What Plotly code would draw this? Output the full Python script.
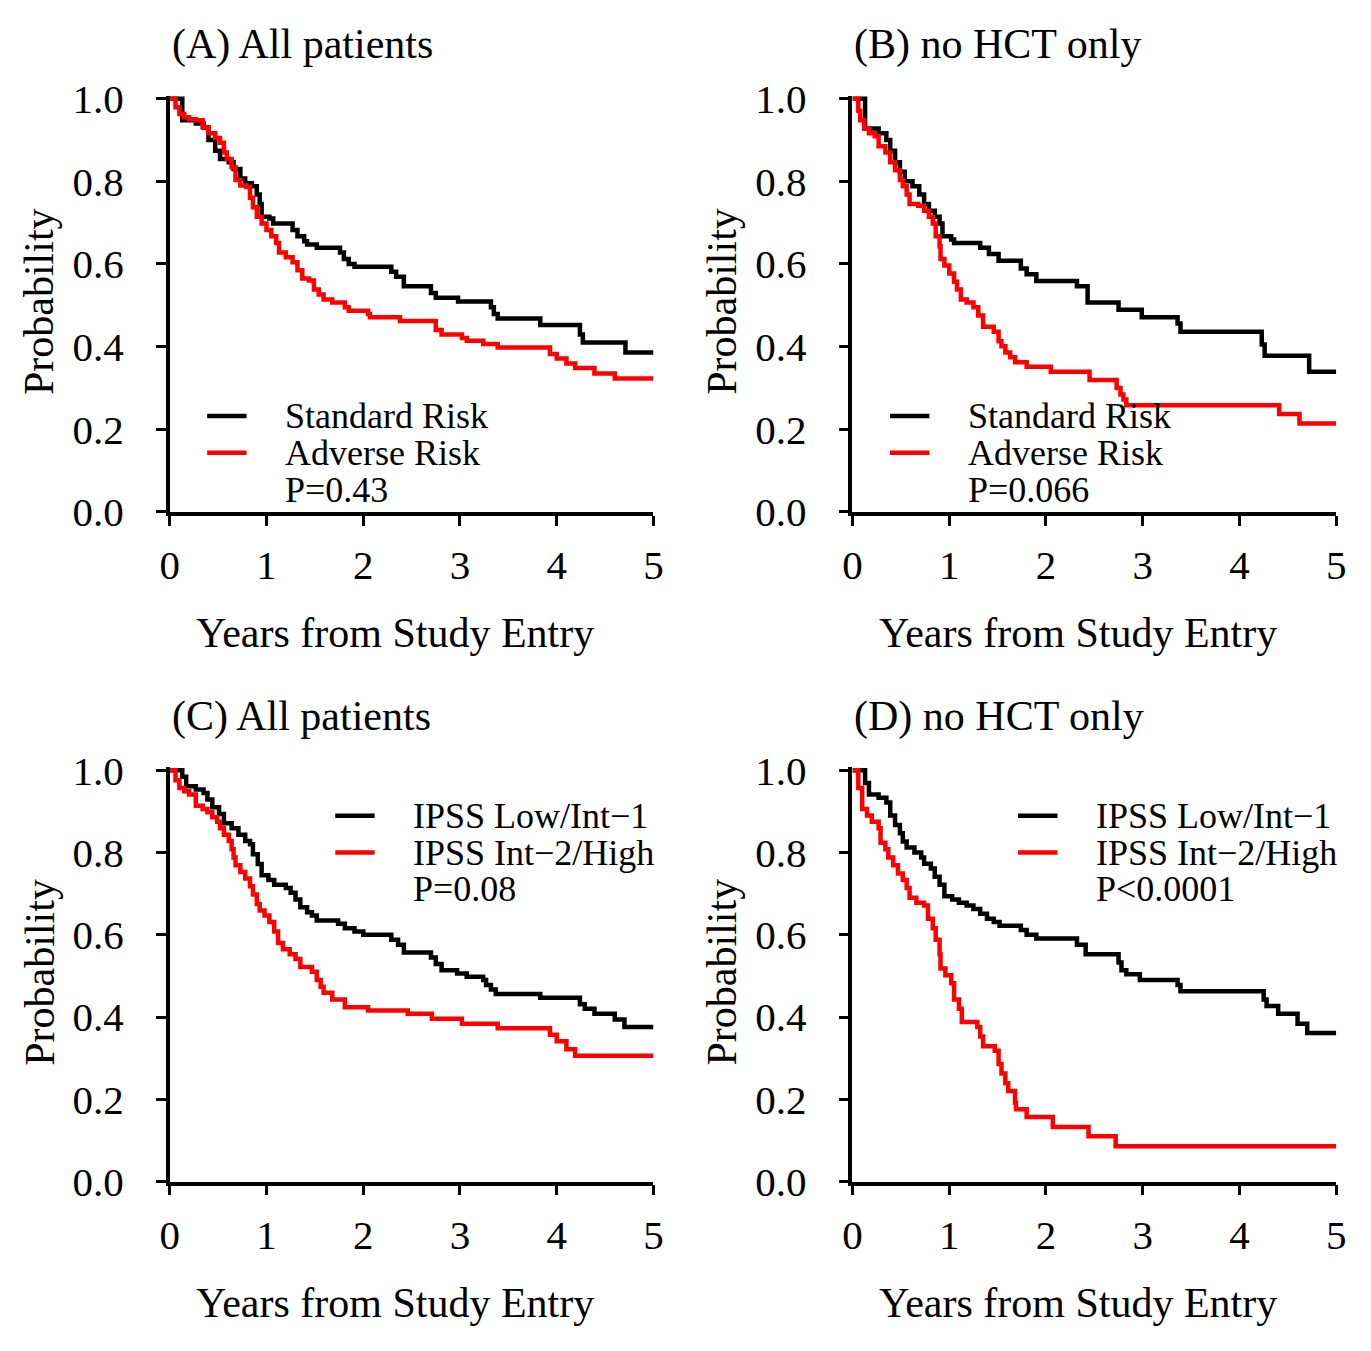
import plotly.graph_objects as go

# The page body has an 8px default margin: size the figure to fit the 1371x1351 window
OFF = 8
W, H = 1371 - 2 * OFF, 1351 - 2 * OFF
FONT = "Liberation Serif"

# ---------------- data (Kaplan-Meier step curves, years vs probability) ----------------
a_std_t = [0, 0.13, 0.27, 0.35, 0.40, 0.47, 0.52, 0.61, 0.66, 0.73, 0.78, 0.85, 0.90, 0.93, 0.95, 1.03, 1.07,
           1.27, 1.32, 1.39, 1.42, 1.52, 1.76, 1.80, 1.85, 1.91, 2.29, 2.34, 2.42, 2.70, 2.75, 2.98, 3.32,
           3.35, 3.39, 3.83, 4.24, 4.27, 4.71, 5.0]
a_std_s = [1.0, 0.948, 0.94, 0.93, 0.90, 0.874, 0.854, 0.846, 0.83, 0.807, 0.795, 0.788, 0.768, 0.745, 0.714,
           0.71, 0.698, 0.682, 0.667, 0.655, 0.647, 0.639, 0.628, 0.612, 0.60, 0.593, 0.581, 0.569, 0.546,
           0.53, 0.518, 0.509, 0.495, 0.479, 0.468, 0.452, 0.429, 0.41, 0.386, 0.386]
a_adv_t = [0, 0.06, 0.10, 0.15, 0.20, 0.27, 0.34, 0.40, 0.47, 0.52, 0.56, 0.59, 0.64, 0.68, 0.73, 0.79, 0.83,
           0.86, 0.90, 0.95, 1.00, 1.05, 1.10, 1.13, 1.20, 1.27, 1.32, 1.37, 1.44, 1.49, 1.54, 1.59, 1.68,
           1.81, 1.85, 2.05, 2.07, 2.38, 2.75, 2.81, 3.02, 3.07, 3.24, 3.39, 3.93, 4.00, 4.10, 4.19, 4.39,
           4.60, 5.0]
a_adv_s = [1.0, 0.979, 0.963, 0.955, 0.95, 0.948, 0.93, 0.916, 0.905, 0.893, 0.87, 0.854, 0.834, 0.803, 0.79,
           0.786, 0.76, 0.737, 0.714, 0.698, 0.682, 0.667, 0.651, 0.628, 0.616, 0.604, 0.585, 0.565, 0.56,
           0.538, 0.526, 0.514, 0.507, 0.495, 0.487, 0.479, 0.471, 0.462, 0.44, 0.429, 0.421, 0.414, 0.406,
           0.398, 0.382, 0.371, 0.359, 0.348, 0.335, 0.323, 0.323]

b_std_t = [0, 0.13, 0.27, 0.35, 0.39, 0.44, 0.49, 0.54, 0.62, 0.69, 0.74, 0.79, 0.85, 0.90, 0.93, 1.02, 1.05,
           1.32, 1.41, 1.51, 1.74, 1.80, 1.90, 2.32, 2.43, 2.75, 2.99, 3.36, 3.39, 4.23, 4.26, 4.72, 5.0]
b_std_s = [1.0, 0.928, 0.916, 0.90, 0.874, 0.846, 0.823, 0.80, 0.788, 0.768, 0.745, 0.729, 0.714, 0.698,
           0.667, 0.659, 0.651, 0.639, 0.624, 0.608, 0.589, 0.575, 0.559, 0.546, 0.507, 0.489, 0.471, 0.456,
           0.436, 0.405, 0.378, 0.339, 0.339]
b_adv_t = [0, 0.06, 0.08, 0.12, 0.17, 0.23, 0.27, 0.34, 0.39, 0.44, 0.49, 0.52, 0.56, 0.59, 0.68, 0.74, 0.79,
           0.83, 0.86, 0.90, 0.91, 0.95, 1.00, 1.05, 1.08, 1.12, 1.18, 1.25, 1.30, 1.35, 1.46, 1.51, 1.54,
           1.58, 1.63, 1.68, 1.80, 2.05, 2.45, 2.73, 2.77, 2.80, 2.83, 4.41, 4.62, 5.0]
b_adv_s = [1.0, 0.971, 0.948, 0.928, 0.916, 0.909, 0.885, 0.87, 0.846, 0.827, 0.803, 0.788, 0.768, 0.745,
           0.741, 0.729, 0.714, 0.698, 0.667, 0.643, 0.612, 0.596, 0.577, 0.557, 0.538, 0.514, 0.507, 0.495,
           0.475, 0.448, 0.436, 0.413, 0.401, 0.386, 0.374, 0.362, 0.351, 0.339, 0.319, 0.30, 0.284, 0.272,
           0.258, 0.237, 0.214, 0.214]

c_low_t = [0, 0.13, 0.17, 0.27, 0.35, 0.39, 0.44, 0.51, 0.56, 0.64, 0.71, 0.78, 0.83, 0.86, 0.91, 0.95, 1.02,
           1.08, 1.20, 1.25, 1.30, 1.35, 1.42, 1.47, 1.52, 1.74, 1.81, 1.91, 2.00, 2.29, 2.36, 2.42, 2.70,
           2.75, 2.81, 2.97, 3.07, 3.24, 3.27, 3.32, 3.37, 3.83, 4.24, 4.29, 4.39, 4.60, 4.70, 5.0]
c_low_s = [1.0, 0.984, 0.961, 0.953, 0.945, 0.929, 0.91, 0.894, 0.871, 0.859, 0.843, 0.828, 0.82, 0.796,
           0.772, 0.745, 0.733, 0.722, 0.714, 0.702, 0.686, 0.667, 0.655, 0.647, 0.635, 0.627, 0.616, 0.608,
           0.60, 0.588, 0.576, 0.557, 0.545, 0.529, 0.514, 0.506, 0.498, 0.49, 0.478, 0.467, 0.456, 0.447,
           0.431, 0.42, 0.408, 0.394, 0.376, 0.376]
c_high_t = [0, 0.06, 0.10, 0.15, 0.20, 0.27, 0.34, 0.39, 0.44, 0.49, 0.52, 0.56, 0.61, 0.64, 0.66, 0.68, 0.73,
            0.78, 0.83, 0.86, 0.90, 0.93, 0.98, 1.03, 1.08, 1.12, 1.17, 1.24, 1.30, 1.35, 1.47, 1.52, 1.56,
            1.59, 1.68, 1.81, 2.05, 2.46, 2.71, 3.02, 3.39, 3.93, 4.00, 4.10, 4.19, 5.0]
c_high_s = [1.0, 0.976, 0.957, 0.949, 0.941, 0.914, 0.906, 0.898, 0.886, 0.875, 0.859, 0.843, 0.828, 0.808,
            0.788, 0.769, 0.753, 0.737, 0.718, 0.698, 0.675, 0.659, 0.647, 0.631, 0.608, 0.58, 0.565, 0.553,
            0.541, 0.522, 0.51, 0.49, 0.474, 0.459, 0.443, 0.424, 0.416, 0.408, 0.396, 0.384, 0.373, 0.357,
            0.341, 0.322, 0.306, 0.306]

d_low_t = [0, 0.13, 0.17, 0.27, 0.35, 0.39, 0.44, 0.49, 0.52, 0.56, 0.64, 0.71, 0.74, 0.81, 0.85, 0.90, 0.95,
           1.03, 1.10, 1.18, 1.25, 1.32, 1.39, 1.46, 1.52, 1.74, 1.80, 1.90, 2.32, 2.41, 2.75, 2.78, 2.83,
           2.97, 3.36, 3.39, 4.25, 4.28, 4.40, 4.60, 4.70, 5.0]
d_low_s = [1.0, 0.969, 0.941, 0.933, 0.922, 0.89, 0.867, 0.847, 0.827, 0.812, 0.80, 0.788, 0.773, 0.761,
           0.741, 0.722, 0.694, 0.686, 0.678, 0.671, 0.663, 0.651, 0.639, 0.631, 0.622, 0.612, 0.60, 0.591,
           0.576, 0.553, 0.533, 0.514, 0.504, 0.49, 0.478, 0.463, 0.443, 0.427, 0.408, 0.384, 0.361, 0.361]
d_high_t = [0, 0.06, 0.10, 0.15, 0.20, 0.27, 0.29, 0.34, 0.37, 0.42, 0.47, 0.52, 0.56, 0.59, 0.66, 0.74, 0.78,
            0.83, 0.86, 0.90, 0.91, 0.96, 1.02, 1.05, 1.10, 1.13, 1.29, 1.32, 1.35, 1.47, 1.51, 1.54, 1.58,
            1.61, 1.68, 1.69, 1.80, 2.07, 2.44, 2.72, 5.0]
d_high_s = [1.0, 0.957, 0.906, 0.89, 0.875, 0.859, 0.824, 0.808, 0.788, 0.769, 0.749, 0.733, 0.714, 0.69,
            0.678, 0.671, 0.639, 0.616, 0.588, 0.553, 0.518, 0.502, 0.482, 0.443, 0.42, 0.388, 0.376, 0.353,
            0.329, 0.318, 0.286, 0.263, 0.239, 0.22, 0.192, 0.176, 0.157, 0.133, 0.11, 0.086, 0.086]

x_ticks = [0, 1, 2, 3, 4, 5]
y_ticks = [0.0, 0.2, 0.4, 0.6, 0.8, 1.0]

panel_titles = ["(A) All patients", "(B) no HCT only", "(C) All patients", "(D) no HCT only"]
legend_labels = [["Standard Risk", "Adverse Risk"], ["Standard Risk", "Adverse Risk"],
                 ["IPSS Low/Int\u22121", "IPSS Int\u22122/High"], ["IPSS Low/Int\u22121", "IPSS Int\u22122/High"]]
p_values = ["P=0.43", "P=0.066", "P=0.08", "P<0.0001"]
x_title = "Years from Study Entry"
y_title = "Probability"

curves = [
    [(a_std_t, a_std_s), (a_adv_t, a_adv_s)],
    [(b_std_t, b_std_s), (b_adv_t, b_adv_s)],
    [(c_low_t, c_low_s), (c_high_t, c_high_s)],
    [(d_low_t, d_low_s), (d_high_t, d_high_s)],
]
colors = ["#000000", "#ff0000"]

# ---------------- layout geometry (window pixels) ----------------
# (left, right, top, bottom) of data area: x 0..5, y 0..1
panels = [(162, 653, 81, 508), (855, 1346, 81, 508), (162, 653, 775, 1200), (855, 1346, 775, 1200)]
TOP_PAD = 3  # px above y=1 so the 1.0 segment is not clipped


def fx(px):
    return (px - OFF) / W


def fy(py):
    return 1 - (py - OFF) / H


fig = go.Figure()
layout = dict(width=W, height=H, margin=dict(l=0, r=0, t=0, b=0), paper_bgcolor="white",
              plot_bgcolor="white", showlegend=False, font=dict(family=FONT, color="black"))
annotations = []
shapes = []

for i, (l, r, t, b) in enumerate(panels):
    n = "" if i == 0 else str(i + 1)
    span = b - t
    ytop = 1 + TOP_PAD / span
    layout["xaxis" + n] = dict(domain=[fx(l), fx(r)], range=[0, 5], anchor="y" + n,
                               tickvals=x_ticks, ticktext=[str(v) for v in x_ticks],
                               showline=True, linewidth=3.5, linecolor="black", ticks="outside",
                               ticklen=10, tickwidth=3, tickcolor="black", showgrid=False, zeroline=False,
                               tickfont=dict(family=FONT, size=41, color="black"), ticklabelstandoff=4)
    layout["yaxis" + n] = dict(domain=[fy(b), fy(t - TOP_PAD)], range=[0, ytop], anchor="x" + n,
                               tickvals=y_ticks, ticktext=["%.1f" % v for v in y_ticks],
                               showline=True, linewidth=3.5, linecolor="black", ticks="outside",
                               ticklen=10, tickwidth=3, tickcolor="black", showgrid=False, zeroline=False,
                               tickfont=dict(family=FONT, size=41, color="black"), ticklabelstandoff=24)
    for (ts, ss), col in zip(curves[i], colors):
        fig.add_trace(go.Scatter(x=ts, y=ss, mode="lines", line=dict(shape="hv", color=col, width=4.5),
                                 xaxis="x" + n, yaxis="y" + n, hoverinfo="skip"))

    # panel title
    annotations.append(dict(text=panel_titles[i], x=fx(l), y=fy(t - 56), xref="paper", yref="paper",
                            xanchor="left", yanchor="middle", showarrow=False,
                            font=dict(family=FONT, size=42, color="black")))
    # axis titles
    annotations.append(dict(text=y_title, x=fx(l - 132), y=fy((t + b) / 2 - 4), xref="paper", yref="paper",
                            xanchor="center", yanchor="middle", textangle=-90, showarrow=False,
                            font=dict(family=FONT, size=42, color="black")))
    annotations.append(dict(text=x_title, x=fx((l + r) / 2 - 17), y=fy(b + 125), xref="paper",
                            yref="paper", xanchor="center", yanchor="middle", showarrow=False,
                            font=dict(family=FONT, size=42, color="black")))
    # legend (drawn keys + labels)
    if i < 2:
        lx, ly = l + 38, 409
    else:
        lx, ly = l + 168, 822
    for k, col in enumerate(colors):
        yy = ly + 38 * k
        shapes.append(dict(type="line", xref="paper", yref="paper", x0=fx(lx), x1=fx(lx + 40),
                           y0=fy(yy), y1=fy(yy), line=dict(color=col, width=4.5)))
        annotations.append(dict(text=legend_labels[i][k], x=fx(lx + 77), y=fy(yy), xref="paper",
                                yref="paper", xanchor="left", yanchor="middle", showarrow=False,
                                font=dict(family=FONT, size=36, color="black")))
    annotations.append(dict(text=p_values[i], x=fx(lx + 77), y=fy(ly + 76), xref="paper", yref="paper",
                            xanchor="left", yanchor="middle", showarrow=False,
                            font=dict(family=FONT, size=36, color="black")))

layout["annotations"] = annotations
layout["shapes"] = shapes
fig.update_layout(**layout)
fig.write_html("out.html")
